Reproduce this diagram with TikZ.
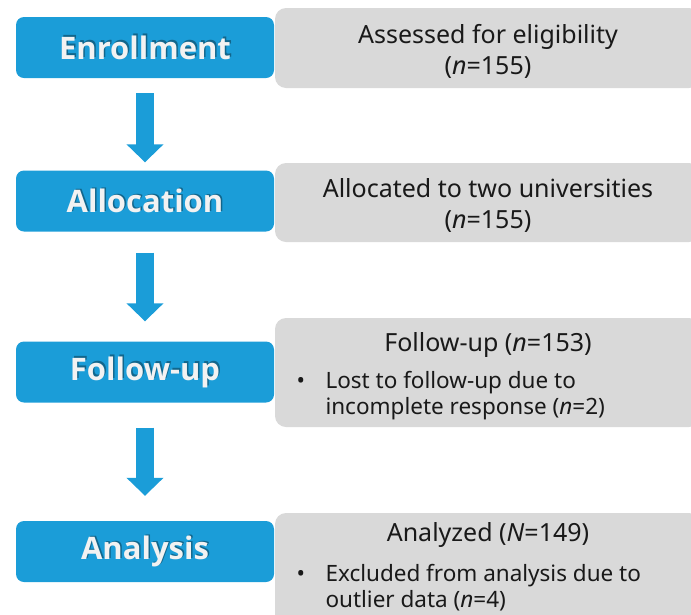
\documentclass[tikz,border=0pt]{standalone}
\usepackage{fontspec}
\setmainfont{Noto Sans}
\newfontfamily\stagefont{Open Sans}
\usetikzlibrary{arrows.meta}

\definecolor{stageblue}{RGB}{27,157,216}
\definecolor{infogray}{RGB}{217,217,217}

\tikzset{
  stage/.style={fill=stageblue, rounded corners=8pt, minimum width=258pt, minimum height=61pt, inner sep=0pt},
  stagetext/.style={text=white!95!black, font=\stagefont\bfseries\fontsize{31}{36}\selectfont},
  stageshade/.style={text=black, opacity=0.35, font=\stagefont\bfseries\fontsize{31}{36}\selectfont},
  infobox/.style={fill=infogray, rounded corners=11pt, minimum width=425pt, inner sep=0pt},
  infotext/.style={text=black!90, font=\fontsize{25}{31}\selectfont, align=center},
  bullettext/.style={text=black!90, font=\fontsize{22.5}{26}\selectfont, align=left, anchor=west},
  flow/.style={draw=stageblue, line width=18pt, -{Triangle[length=18pt,width=36pt]}}
}

\begin{document}
\begin{tikzpicture}[x=1pt,y=-1pt]

\clip (0,0) rectangle (691,614);

\node[stage] (enr) at (145,47.5) {};
\node[stage] (alloc) at (145,201) {};
\node[stage] (follow) at (145,372) {};
\node[stage] (anal) at (145,551.5) {};

\node[stageshade] at ([shift={(1.5,-1.5)}]enr) {Enrollment};
\node[stagetext] at (enr) {Enrollment};
\node[stageshade] at ([shift={(1.5,-1.5)}]alloc) {Allocation};
\node[stagetext] at (alloc) {Allocation};
\node[stageshade] at ([shift={(1.5,-1.5)}]follow) {Follow-up};
\node[stagetext] at (follow) {Follow-up};
\node[stageshade] at ([shift={(1.5,-1.5)}]anal) {Analysis};
\node[stagetext] at (anal) {Analysis};

\node[infobox, minimum height=80pt] (assess) at (487.5,48) {};
\node[infobox, minimum height=79pt] (alloc2) at (487.5,202.5) {};
\node[infobox, minimum height=109pt] (follow2) at (487.5,372.5) {};
\node[infobox, minimum height=112pt] (anal2) at (487.5,569) {};

\node[infotext] at (488,51.5) {Assessed for eligibility\\(\textit{n}=155)};
\node[infotext] at (488,205.5) {Allocated to two universities\\(\textit{n}=155)};
\node[infotext] at (488,345) {Follow-up (\textit{n}=153)};
\node[infotext] at (488,535) {Analyzed (\textit{N}=149)};
\node[bullettext] at (293,396) {\makebox[29pt][l]{•}Lost to follow-up due to\\\hspace*{29pt}incomplete response (\textit{n}=2)};
\node[bullettext] at (293,588) {\makebox[29pt][l]{•}Excluded from analysis due to\\\hspace*{29pt}outlier data (\textit{n}=4)};

\draw[flow, shorten <=15pt, shorten >=8pt] (enr) -- (alloc);
\draw[flow, shorten <=21pt, shorten >=20pt] (alloc) -- (follow);
\draw[flow, shorten <=25pt, shorten >=25pt] (follow) -- (anal);

\end{tikzpicture}
\end{document}
